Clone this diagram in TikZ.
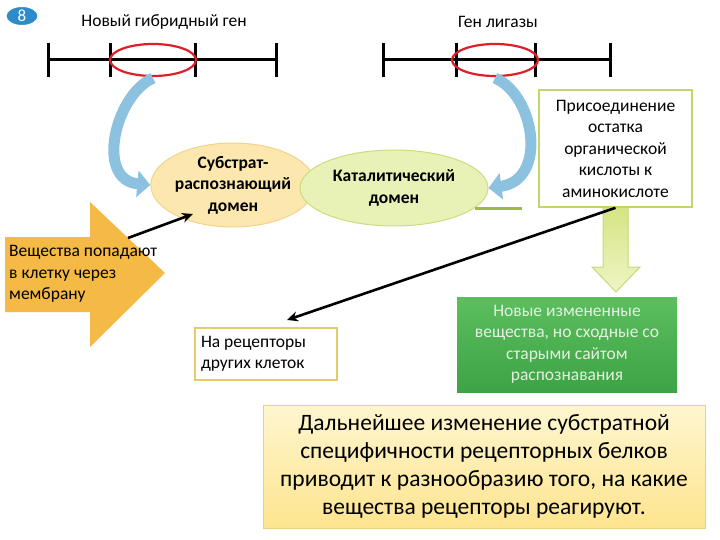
\documentclass[tikz,border=0pt]{standalone}
\usepackage{fontspec}
\setmainfont{Carlito}
\usetikzlibrary{arrows.meta,positioning,shapes.geometric,calc}

\definecolor{geneRed}{HTML}{DE1F2A}
\definecolor{badgeBlue}{HTML}{2E8BC9}
\definecolor{curveBlue}{HTML}{8CC2E0}
\definecolor{substFill}{HTML}{FCE7AE}
\definecolor{substEdge}{HTML}{F1D48C}
\definecolor{catFill}{HTML}{E8F1B6}
\definecolor{catEdge}{HTML}{CCDC80}
\definecolor{boxEdge}{HTML}{C6D46C}
\definecolor{lineGreen}{HTML}{9DBB3E}
\definecolor{orangeArr}{HTML}{F5BA45}
\definecolor{greenTop}{HTML}{5CBE5F}
\definecolor{greenBot}{HTML}{3DA344}
\definecolor{greenText}{HTML}{E4F1E2}
\definecolor{downTop}{HTML}{D3E37E}
\definecolor{downBot}{HTML}{EFF5C6}
\definecolor{downEdge}{HTML}{C9D877}
\definecolor{recEdge}{HTML}{E6CB66}
\definecolor{noteTop}{HTML}{FEF6CF}
\definecolor{noteBot}{HTML}{FDE48E}
\definecolor{noteEdge}{HTML}{EBD17F}

\newcommand\smallfnt{\fontsize{17.5}{21.5}\selectfont}
\newcommand\bigfnt{\fontsize{23.5}{28}\selectfont}

\tikzset{
  gene/.style={line width=3pt},
  site/.style={ellipse, draw=geneRed, line width=2.2pt, minimum width=86, minimum height=32, inner sep=0},
  bendarr/.style={curveBlue, line width=11pt, -{Triangle[width=26pt,length=13pt]}},
  blackarr/.style={line width=2.6pt, -{Stealth[length=11pt,width=10pt]}},
  lbl/.style={font=\smallfnt, inner sep=0},
  protdom/.style={ellipse, font=\smallfnt\bfseries, align=center, inner sep=0, line width=1pt},
  box/.style={draw, line width=1.6pt, font=\smallfnt, align=center, inner sep=0}
}

\begin{document}
\begin{tikzpicture}[x=1pt,y=-1pt]
  \useasboundingbox (0,0) rectangle (720,540);

  % -------- badge --------
  \node[ellipse, fill=badgeBlue, draw=white, line width=1pt, minimum width=32, minimum height=19,
        inner sep=0, text=white, font=\fontsize{17}{17}\selectfont] (num) at (22,16) {8};

  % -------- genes --------
  \node[lbl] (titleA) at (164,22) {Новый гибридный ген};
  \draw[gene] (48,60) -- (276,60);
  \foreach \x in {48,110,195,276} {
    \draw[gene] (\x,43) -- (\x,77);
  }
  \node[site] (siteA) at (153,60) {};

  \node[lbl] (titleB) at (498,22) {Ген лигазы};
  \draw[gene] (383,60) -- (610,60);
  \foreach \x in {383,456,535,610} {
    \draw[gene] (\x,43) -- (\x,77);
  }
  \node[site] (siteB) at (495,60) {};

  % -------- protein domains --------
  \node[protdom, fill=substFill, draw=substEdge, minimum width=160, minimum height=84] (subst) at (233,185)
    {Субстрат-\\распознающий\\домен};
  \node[protdom, fill=catFill, draw=catEdge, minimum width=188, minimum height=76] (cat) at (394,188)
    {Каталитический\\домен};

  % -------- curved arrows --------
  \draw[bendarr] ($(siteA.south)+(0,1)$) .. controls (115,95) and (95,180) .. (subst.west);
  \draw[bendarr] ($(siteB.south)+(0,1)$) .. controls (535,95) and (548,180) .. (cat.east);

  % -------- ligase box and down arrow --------
  \draw[line width=3pt, lineGreen] (cat.-14.6) -- ++(47,0);
  \draw[downEdge, line width=1pt, top color=downTop, bottom color=downBot]
    (603,200) -- (628,200) -- (628,267) -- (640,267) -- (616,292) -- (592,267) -- (603,267) -- cycle;
  \node[box, draw=boxEdge, fill=white, minimum width=153, minimum height=117] (attach) at (615.5,148.5)
    {Присоединение\\остатка\\органической\\кислоты к\\аминокислоте};

  \node[box, draw=none, top color=greenTop, bottom color=greenBot, text=greenText,
        minimum width=220, minimum height=95] (newsub) at (567,344.5)
    {Новые измененные\\вещества,  но сходные со\\старыми сайтом\\распознавания};

  % -------- other cells --------
  \node[box, draw=recEdge, fill=white, align=flush left, minimum width=142, minimum height=52,
        text width=130] (recept) at (266,354) {На рецепторы\\других клеток};
  \coordinate (rtip) at (287,320);
  \draw[blackarr] (attach.south) -- (rtip);

  % -------- entering substances --------
  \fill[orangeArr] (5,237) -- (90,237) -- (90,202) -- (165,273) -- (90,347) -- (90,312) -- (5,312) -- cycle;
  \node[lbl, anchor=west, align=left] (enter) at (9,274) {Вещества попадают\\в клетку через\\мембрану};
  \coordinate (etail) at (128,238);
  \coordinate (etip) at (193,214);
  \draw[blackarr] (etail) -- (etip);

  % -------- conclusion --------
  \node[box, draw=noteEdge, line width=1pt, top color=noteTop, bottom color=noteBot, font=\bigfnt,
        minimum width=442, minimum height=123] (note) at (484,466.5)
    {Дальнейшее изменение субстратной\\специфичности рецепторных белков\\приводит к разнообразию того, на какие\\вещества рецепторы реагируют.};
\end{tikzpicture}
\end{document}
